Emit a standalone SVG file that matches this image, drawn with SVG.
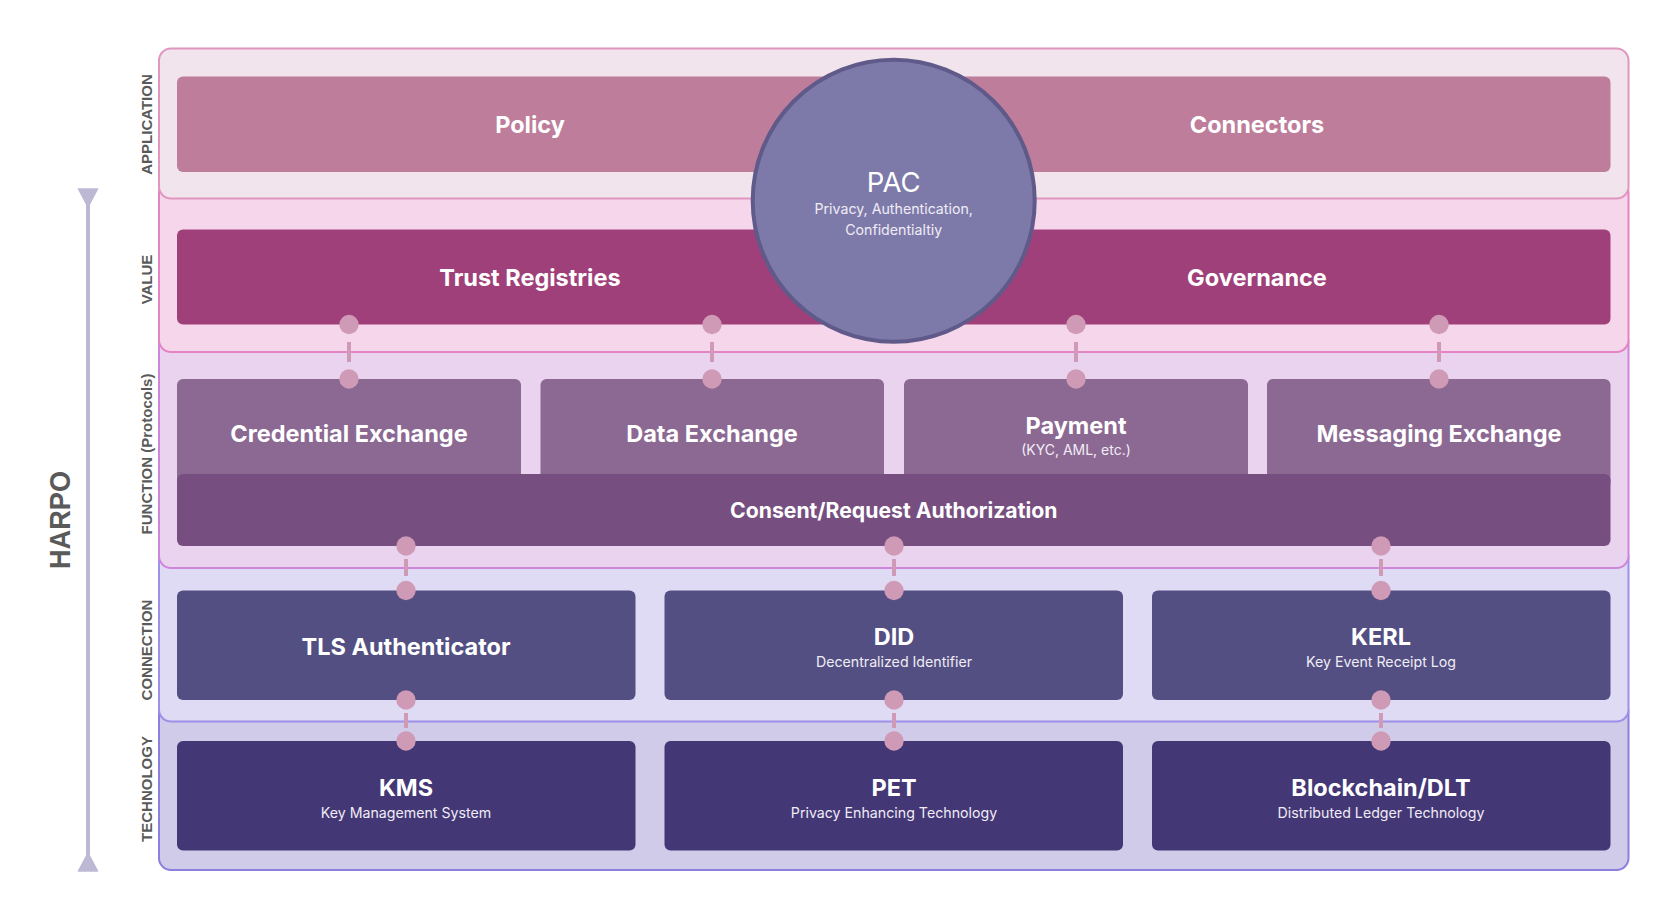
<svg xmlns="http://www.w3.org/2000/svg" width="1678" height="919" viewBox="0 0 1678 919">
<style>
.lbl{font-family:"Liberation Sans",Arial,sans-serif;font-weight:700;font-size:15px;fill:#5a5a5a;text-anchor:middle}
.t{font-family:Inter,"Noto Sans",sans-serif;font-weight:700;font-size:23.5px;fill:#ffffff;text-anchor:middle}
.s{font-family:Inter,"Noto Sans",sans-serif;font-weight:400;font-size:14.2px;fill:#f0ecf6;text-anchor:middle}
.dot{fill:#cf9ab5}
.dash{stroke:#cf9ab5;stroke-width:4}
.fb{fill:#8c6993}
.cb{fill:#534f82}
.tb{fill:#433775}
</style>
<rect width="1678" height="919" fill="#ffffff"/>

<!-- side arrow -->
<g id="harpo-axis">
<line x1="88" y1="200" x2="88" y2="862" stroke="#bdb8d3" stroke-width="4"/>
<polygon points="78.5,189 97.5,189 88,207" fill="#bdb8d3" stroke="#bdb8d3" stroke-width="1.5" stroke-linejoin="round"/>
<polygon points="88,853 78.5,871 97.5,871" fill="#bdb8d3" stroke="#bdb8d3" stroke-width="1.5" stroke-linejoin="round"/>
<text transform="translate(70,520) rotate(-90)" font-family="Liberation Sans, Arial, sans-serif" font-weight="700" font-size="30" fill="#5a5a5a" text-anchor="middle" textLength="98" lengthAdjust="spacingAndGlyphs">HARPO</text>
</g>

<!-- layer panels (bottom first) -->
<g id="layer-technology">
<rect x="159" y="700" width="1469.5" height="170" rx="12" fill="#d0cbe9" stroke="#8b7fe0" stroke-width="2"/>
<text class="lbl" transform="translate(151.5,789) rotate(-90)">TECHNOLOGY</text>
</g>
<g id="layer-connection">
<rect x="159" y="545" width="1469.5" height="176.5" rx="12" fill="#dfdbf4" stroke="#9c90e8" stroke-width="2"/>
<text class="lbl" transform="translate(151.5,650) rotate(-90)">CONNECTION</text>
</g>
<g id="layer-function">
<rect x="159" y="330" width="1469.5" height="238" rx="12" fill="#ead3ee" stroke="#cd86da" stroke-width="2"/>
<text class="lbl" transform="translate(151.5,454) rotate(-90)">FUNCTION (Protocols)</text>
</g>
<g id="layer-value">
<rect x="159" y="180" width="1469.5" height="172" rx="12" fill="#f6d6ea" stroke="#e484c4" stroke-width="2"/>
<text class="lbl" transform="translate(151.5,279.5) rotate(-90)">VALUE</text>
</g>
<g id="layer-application">
<rect x="159" y="48.5" width="1469.5" height="150" rx="12" fill="#f2e4ec" stroke="#e096bf" stroke-width="2"/>
<text class="lbl" transform="translate(151.5,124.5) rotate(-90)">APPLICATION</text>
</g>

<!-- application nodes -->
<g id="node-policy-connectors">
<rect x="177" y="76.5" width="1433.5" height="95.5" rx="6" fill="#bd7d9b"/>
<text class="t" x="530" y="133">Policy</text>
<text class="t" x="1257" y="133">Connectors</text>
</g>

<!-- value nodes -->
<g id="node-trust-governance">
<rect x="177" y="229.5" width="1433.5" height="95" rx="6" fill="#a0407a"/>
<text class="t" x="530" y="286">Trust Registries</text>
<text class="t" x="1257" y="286">Governance</text>
</g>

<!-- function nodes -->
<g id="node-credential-exchange">
<rect class="fb" x="177" y="379" width="344" height="110" rx="6"/>
<text class="t" x="349" y="442">Credential Exchange</text>
</g>
<g id="node-data-exchange">
<rect class="fb" x="540.5" y="379" width="343.5" height="110" rx="6"/>
<text class="t" x="712" y="442">Data Exchange</text>
</g>
<g id="node-payment">
<rect class="fb" x="904" y="379" width="344" height="110" rx="6"/>
<text class="t" x="1076" y="434">Payment</text>
<text class="s" x="1076" y="455" style="font-size:14px">(KYC, AML, etc.)</text>
</g>
<g id="node-messaging-exchange">
<rect class="fb" x="1267" y="379" width="343.5" height="110" rx="6"/>
<text class="t" x="1439" y="442">Messaging Exchange</text>
</g>
<g id="node-consent">
<rect x="177" y="474" width="1433.5" height="72" rx="6" fill="#764f80"/>
<text class="t" x="893.7" y="518" style="font-size:21.2px">Consent/Request Authorization</text>
</g>

<!-- connection nodes -->
<g id="node-tls">
<rect class="cb" x="177" y="590.5" width="458.5" height="109.5" rx="6"/>
<text class="t" x="406" y="654.5">TLS Authenticator</text>
</g>
<g id="node-did">
<rect class="cb" x="664.5" y="590.5" width="458.5" height="109.5" rx="6"/>
<text class="t" x="894" y="645">DID</text>
<text class="s" x="894" y="667">Decentralized Identifier</text>
</g>
<g id="node-kerl">
<rect class="cb" x="1152" y="590.5" width="458.5" height="109.5" rx="6"/>
<text class="t" x="1381" y="645">KERL</text>
<text class="s" x="1381" y="667">Key Event Receipt Log</text>
</g>

<!-- technology nodes -->
<g id="node-kms">
<rect class="tb" x="177" y="741" width="458.5" height="109.5" rx="6"/>
<text class="t" x="406" y="796">KMS</text>
<text class="s" x="406" y="817.5">Key Management System</text>
</g>
<g id="node-pet">
<rect class="tb" x="664.5" y="741" width="458.5" height="109.5" rx="6"/>
<text class="t" x="894" y="796">PET</text>
<text class="s" x="894" y="817.5">Privacy Enhancing Technology</text>
</g>
<g id="node-blockchain">
<rect class="tb" x="1152" y="741" width="458.5" height="109.5" rx="6"/>
<text class="t" x="1381" y="796">Blockchain/DLT</text>
<text class="s" x="1381" y="817.5">Distributed Ledger Technology</text>
</g>

<!-- connectors -->
<g id="connectors">
<line class="dash" x1="349" y1="342" x2="349" y2="362"/>
<line class="dash" x1="712" y1="342" x2="712" y2="362"/>
<line class="dash" x1="1076" y1="342" x2="1076" y2="362"/>
<line class="dash" x1="1439" y1="342" x2="1439" y2="362"/>
<circle class="dot" cx="349" cy="324.5" r="9.7"/><circle class="dot" cx="349" cy="379" r="9.7"/>
<circle class="dot" cx="712" cy="324.5" r="9.7"/><circle class="dot" cx="712" cy="379" r="9.7"/>
<circle class="dot" cx="1076" cy="324.5" r="9.7"/><circle class="dot" cx="1076" cy="379" r="9.7"/>
<circle class="dot" cx="1439" cy="324.5" r="9.7"/><circle class="dot" cx="1439" cy="379" r="9.7"/>

<line class="dash" x1="406" y1="559" x2="406" y2="576"/>
<line class="dash" x1="894" y1="559" x2="894" y2="576"/>
<line class="dash" x1="1381" y1="559" x2="1381" y2="576"/>
<circle class="dot" cx="406" cy="546" r="9.7"/><circle class="dot" cx="406" cy="590.5" r="9.7"/>
<circle class="dot" cx="894" cy="546" r="9.7"/><circle class="dot" cx="894" cy="590.5" r="9.7"/>
<circle class="dot" cx="1381" cy="546" r="9.7"/><circle class="dot" cx="1381" cy="590.5" r="9.7"/>

<line class="dash" x1="406" y1="713" x2="406" y2="728"/>
<line class="dash" x1="894" y1="713" x2="894" y2="728"/>
<line class="dash" x1="1381" y1="713" x2="1381" y2="728"/>
<circle class="dot" cx="406" cy="700" r="9.7"/><circle class="dot" cx="406" cy="741" r="9.7"/>
<circle class="dot" cx="894" cy="700" r="9.7"/><circle class="dot" cx="894" cy="741" r="9.7"/>
<circle class="dot" cx="1381" cy="700" r="9.7"/><circle class="dot" cx="1381" cy="741" r="9.7"/>
</g>

<!-- PAC circle -->
<g id="node-pac">
<circle cx="893.7" cy="200.7" r="141" fill="#7d7aa9" stroke="#5f5a89" stroke-width="4"/>
<text x="893.7" y="191.5" font-family="Inter, 'Noto Sans', sans-serif" font-size="27.5" fill="#ffffff" text-anchor="middle">PAC</text>
<text class="s" x="893.7" y="214">Privacy, Authentication,</text>
<text class="s" x="893.7" y="235">Confidentialtiy</text>
</g>
</svg>
